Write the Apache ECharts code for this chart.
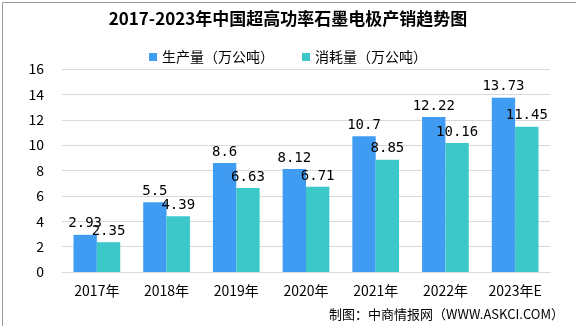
<!DOCTYPE html>
<html><head><meta charset="utf-8">
<script src="https://cdn.jsdelivr.net/npm/echarts@6/dist/echarts.min.js"></script>
<style>html,body{margin:0;padding:0;background:#fff}#c{width:576px;height:326px}</style>
</head><body><div id="c"></div>
<script>
const categories = ['2017年','2018年','2019年','2020年','2021年','2022年','2023年E'];
const production = [2.93, 5.5, 8.6, 8.12, 10.7, 12.22, 13.73];
const consumption = [2.35, 4.39, 6.63, 6.71, 8.85, 10.16, 11.45];
const seriesNames = ['生产量（万公吨）','消耗量（万公吨）'];
const chart = echarts.init(document.getElementById('c'));
const lbl = {show:true, position:'top', color:'#000', fontSize:14, fontFamily:'DejaVu Sans Mono, monospace', distance:4};
chart.setOption({
  animation:false,
  title:{text:'2017-2023年中国超高功率石墨电极产销趋势图', left:'center', top:5,
    textStyle:{fontSize:17, fontWeight:'bold', color:'#000', fontFamily:'Noto Sans CJK SC'}},
  legend:{top:45, left:'center', itemWidth:8, itemHeight:8, itemGap:28, icon:'rect',
    textStyle:{fontSize:14, color:'#000', fontFamily:'Noto Sans CJK SC'}},
  grid:{left:62, right:26, top:69, bottom:54},
  xAxis:{type:'category', data:categories,
    axisLine:{lineStyle:{color:'#d9d9d9'}}, axisTick:{show:false},
    axisLabel:{color:'#000', fontSize:14, margin:12, fontFamily:'Noto Sans CJK SC'}},
  yAxis:{type:'value', min:0, max:16, interval:2,
    axisLine:{show:false}, axisTick:{show:false},
    splitLine:{lineStyle:{color:'#d9d9d9'}},
    axisLabel:{color:'#000', fontSize:14, margin:18, fontFamily:'Noto Sans CJK SC'}},
  series:[
    {name:seriesNames[0], type:'bar', data:production, barGap:'0%', barCategoryGap:'33%',
      itemStyle:{color:'#3F9CF2'}, label:lbl},
    {name:seriesNames[1], type:'bar', data:consumption,
      itemStyle:{color:'#3CC8C8'}, label:lbl}
  ],
  graphic:[
    {type:'rect', left:0, top:0, shape:{width:575, height:325}, style:{fill:'none', stroke:'#999', lineWidth:1}, silent:true},
    {type:'text', right:12, bottom:5, style:{text:'制图：中商情报网（WWW.ASKCI.COM）', fontSize:13, fill:'#000', fontFamily:'Noto Sans CJK SC'}}
  ]
});
</script></body></html>
